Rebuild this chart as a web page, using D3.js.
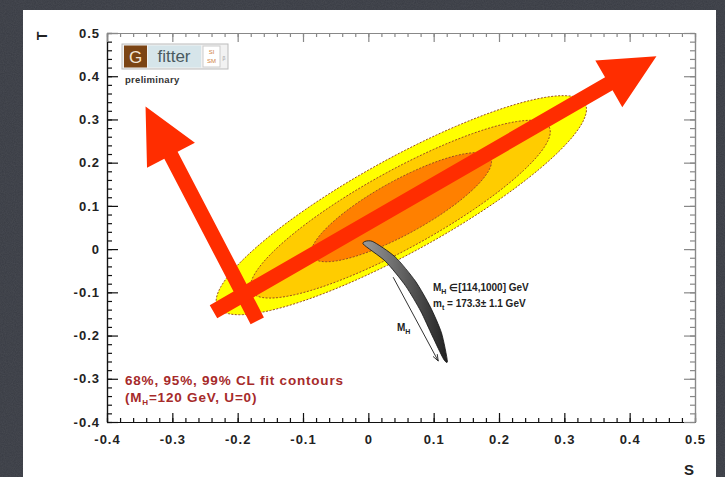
<!DOCTYPE html>
<html>
<head>
<meta charset="utf-8">
<script src="https://cdn.jsdelivr.net/npm/d3@7"></script>
<style>
  body { margin: 0; background: #3b3e46; }
  svg { display: block; }
  text { font-family: "Liberation Sans", Arial, sans-serif; }
</style>
</head>
<body>
<div id="chart"></div>
<script>
var width = 725,
    height = 477;

// axis ticks
var sTicks = [-0.4, -0.3, -0.2, -0.1, 0, 0.1, 0.2, 0.3, 0.4, 0.5];
var sTickLabels = ["-0.4", "-0.3", "-0.2", "-0.1", "0", "0.1", "0.2", "0.3", "0.4", "0.5"];
var tTicks = [-0.4, -0.3, -0.2, -0.1, 0, 0.1, 0.2, 0.3, 0.4, 0.5];
var tTickLabels = ["-0.4", "-0.3", "-0.2", "-0.1", "0", "0.1", "0.2", "0.3", "0.4", "0.5"];

// fit contours (99%, 95%, 68%) : centre + half axes in S,T units
var contourNames = ["99%", "95%", "68%"];
var contourColours = ["#ffff00", "#ffcc00", "#ff8000"];
var centreS = [0.0505, 0.049, 0.0505];
var centreT = [0.1016, 0.0924, 0.097];
var majorS = [0.2813, 0.2277, 0.1366];
var majorT = [0.2351, 0.1903, 0.1141];
var minorS = [0.0347, 0.0287, 0.0199];
var minorT = [-0.0946, -0.0780, -0.0540];

// SM prediction band (M_H from 114 to 1000 GeV)
var bandLeftS = [-0.008, 0.026, 0.057, 0.080, 0.098, 0.115];
var bandLeftT = [0.012, -0.028, -0.085, -0.143, -0.201, -0.254];
var bandRightS = [0.006, 0.041, 0.072, 0.095, 0.112, 0.121];
var bandRightT = [0.018, -0.018, -0.074, -0.134, -0.194, -0.259];

// M_H direction arrow
var mhArrowS = [0.038, 0.107];
var mhArrowT = [-0.065, -0.259];

// red overlay arrows: tail -> tip
var arrowTailS = [-0.170, -0.237];
var arrowTailT = [-0.166, -0.145];
var arrowTipS = [-0.341, 0.441];
var arrowTipT = [0.330, 0.446];

var x = d3.scaleLinear().domain([-0.4, 0.5]).range([107, 695]);
var y = d3.scaleLinear().domain([-0.4, 0.5]).range([422, 33]);

var svg = d3.select("#chart").append("svg")
    .attr("width", width)
    .attr("height", height);

// textured dark backdrop
var defs = svg.append("defs");
var noise = defs.append("filter").attr("id", "noise")
    .attr("x", 0).attr("y", 0).attr("width", "100%").attr("height", "100%");
noise.append("feTurbulence")
    .attr("type", "fractalNoise")
    .attr("baseFrequency", 0.9)
    .attr("numOctaves", 2)
    .attr("seed", 3);
noise.append("feColorMatrix")
    .attr("type", "matrix")
    .attr("values", "0 0 0 0 1  0 0 0 0 1  0 0 0 0 1  0 0 0 0.08 0");

svg.append("rect").attr("width", width).attr("height", height).style("fill", "#383b43");
svg.append("rect").attr("width", width).attr("height", height).attr("filter", "url(#noise)");

// white slide panel
svg.append("rect")
    .attr("x", 23).attr("y", 10)
    .attr("width", 693).attr("height", 470)
    .style("fill", "#ffffff");

// contours
var ellipse = d3.line()
    .x(function(p) { return x(p[0]); })
    .y(function(p) { return y(p[1]); })
    .curve(d3.curveLinearClosed);

contourNames.forEach(function(name, i) {
  var pts = d3.range(0, 2 * Math.PI, Math.PI / 90).map(function(a) {
    return [centreS[i] + majorS[i] * Math.cos(a) + minorS[i] * Math.sin(a),
            centreT[i] + majorT[i] * Math.cos(a) + minorT[i] * Math.sin(a)];
  });
  svg.append("path")
      .attr("class", "contour")
      .attr("d", ellipse(pts))
      .style("fill", contourColours[i])
      .style("stroke", "#9a4a22")
      .style("stroke-width", 1)
      .style("stroke-dasharray", "2,1.5");
});

// SM band
var bandPts = [];
bandLeftS.forEach(function(s, i) { bandPts.push([s, bandLeftT[i]]); });
for (var i = bandRightS.length - 1; i >= 0; i--) {
  bandPts.push([bandRightS[i], bandRightT[i]]);
}
var grad = defs.append("linearGradient").attr("id", "bandGrad")
    .attr("x1", 0).attr("y1", 0).attr("x2", 1).attr("y2", 0);
grad.append("stop").attr("offset", "0%").attr("stop-color", "#9a9a9a");
grad.append("stop").attr("offset", "100%").attr("stop-color", "#222");
svg.append("path")
    .attr("d", d3.line()
      .x(function(p) { return x(p[0]); })
      .y(function(p) { return y(p[1]); })
      .curve(d3.curveCardinalClosed.tension(0.3))(bandPts))
    .style("fill", "url(#bandGrad)")
    .style("stroke", "#111")
    .style("stroke-width", 0.8);

// M_H arrow
var mx1 = x(mhArrowS[0]), my1 = y(mhArrowT[0]),
    mx2 = x(mhArrowS[1]), my2 = y(mhArrowT[1]);
svg.append("line")
    .attr("x1", mx1).attr("y1", my1)
    .attr("x2", mx2).attr("y2", my2)
    .style("stroke", "#333")
    .style("stroke-width", 1);
var mang = Math.atan2(my2 - my1, mx2 - mx1);
svg.append("path")
    .attr("d", "M" + (mx2 - 7 * Math.cos(mang - 0.35)) + "," + (my2 - 7 * Math.sin(mang - 0.35)) +
               "L" + mx2 + "," + my2 +
               "L" + (mx2 - 7 * Math.cos(mang + 0.35)) + "," + (my2 - 7 * Math.sin(mang + 0.35)))
    .style("fill", "none")
    .style("stroke", "#333")
    .style("stroke-width", 1);

var mh = svg.append("text").attr("x", 397).attr("y", 331)
    .style("font-size", "10px").style("font-weight", "bold").style("fill", "#222");
mh.append("tspan").text("M");
mh.append("tspan").attr("dy", 3).style("font-size", "7px").text("H");

// SM band description
var l1 = svg.append("text").attr("x", 433).attr("y", 291)
    .style("font-size", "10px").style("font-weight", "bold").style("fill", "#222");
l1.append("tspan").text("M");
l1.append("tspan").attr("dy", 3).style("font-size", "7px").text("H");
l1.append("tspan").attr("dy", -3).text(" \u2208[114,1000] GeV");
var l2 = svg.append("text").attr("x", 433).attr("y", 307)
    .style("font-size", "10px").style("font-weight", "bold").style("fill", "#222");
l2.append("tspan").text("m");
l2.append("tspan").attr("dy", 3).style("font-size", "7px").text("t");
l2.append("tspan").attr("dy", -3).text(" = 173.3\u00b1 1.1 GeV");

// CL legend
svg.append("text").attr("x", 125).attr("y", 385)
    .style("font-size", "13.5px").style("font-weight", "bold").style("fill", "#a62a2a")
    .style("letter-spacing", "0.8px")
    .text("68%, 95%, 99% CL fit contours");
var l4 = svg.append("text").attr("x", 125).attr("y", 402)
    .style("font-size", "13.5px").style("font-weight", "bold").style("fill", "#a62a2a")
    .style("letter-spacing", "0.8px");
l4.append("tspan").text("(M");
l4.append("tspan").attr("dy", 3).style("font-size", "8px").text("H");
l4.append("tspan").attr("dy", -3).text("=120 GeV, U=0)");

// axes, ROOT style ticks pointing inwards
function styleAxis(g, colour) {
  g.selectAll("path, line").style("stroke", colour).style("stroke-width", 1.2);
  g.selectAll("text")
      .style("font-family", "'Liberation Sans', Arial, sans-serif")
      .style("font-size", "13px")
      .style("font-weight", "bold")
      .style("letter-spacing", "1px")
      .style("fill", "#222");
}

var sMinor = x.ticks(45), tMinor = y.ticks(45);

svg.append("g").attr("transform", "translate(0," + y(-0.4) + ")")
    .call(d3.axisBottom(x).tickValues(sMinor).tickSize(-4).tickSizeOuter(0).tickFormat(""))
    .call(styleAxis, "#111");
svg.append("g").attr("transform", "translate(0," + y(-0.4) + ")")
    .call(d3.axisBottom(x).tickValues(sTicks).tickSize(-9).tickSizeOuter(0).tickPadding(13)
      .tickFormat(function(d, i) { return sTickLabels[i]; }))
    .call(styleAxis, "#111");

svg.append("g").attr("transform", "translate(" + x(-0.4) + ",0)")
    .call(d3.axisLeft(y).tickValues(tMinor).tickSize(-5).tickSizeOuter(0).tickFormat(""))
    .call(styleAxis, "#111");
svg.append("g").attr("transform", "translate(" + x(-0.4) + ",0)")
    .call(d3.axisLeft(y).tickValues(tTicks).tickSize(-11).tickSizeOuter(0).tickPadding(7)
      .tickFormat(function(d, i) { return tTickLabels[i]; }))
    .call(styleAxis, "#111");

svg.append("g").attr("transform", "translate(0," + y(0.5) + ")")
    .call(d3.axisTop(x).tickValues(sMinor).tickSize(-4).tickSizeOuter(0).tickFormat(""))
    .call(styleAxis, "#888");
svg.append("g").attr("transform", "translate(0," + y(0.5) + ")")
    .call(d3.axisTop(x).tickValues(sTicks).tickSize(-9).tickSizeOuter(0).tickFormat(""))
    .call(styleAxis, "#888");
svg.append("g").attr("transform", "translate(" + x(0.5) + ",0)")
    .call(d3.axisRight(y).tickValues(tMinor).tickSize(-5).tickSizeOuter(0).tickFormat(""))
    .call(styleAxis, "#888");
svg.append("g").attr("transform", "translate(" + x(0.5) + ",0)")
    .call(d3.axisRight(y).tickValues(tTicks).tickSize(-11).tickSizeOuter(0).tickFormat(""))
    .call(styleAxis, "#888");

// axis titles
svg.append("text").attr("x", 689).attr("y", 475)
    .attr("text-anchor", "middle")
    .style("font-size", "15px").style("font-weight", "bold").style("fill", "#222")
    .text("S");
svg.append("text")
    .attr("transform", "translate(47,36) rotate(-90)")
    .attr("text-anchor", "middle")
    .style("font-size", "14px").style("font-weight", "bold").style("fill", "#222")
    .text("T");

// Gfitter logo
var logo = svg.append("g").attr("transform", "translate(122,44)");
logo.append("rect").attr("width", 106).attr("height", 25)
    .style("fill", "#f2f2f2").style("stroke", "#bbb");
logo.append("rect").attr("x", 2).attr("y", 1.5).attr("width", 23).attr("height", 22)
    .style("fill", "#7b4414");
logo.append("text").attr("x", 13.5).attr("y", 19).attr("text-anchor", "middle")
    .style("font-size", "17px").style("fill", "#f3e6d8").text("G");
logo.append("rect").attr("x", 26).attr("y", 1.5).attr("width", 53).attr("height", 22)
    .style("fill", "#d6e5ea");
logo.append("text").attr("x", 52).attr("y", 18).attr("text-anchor", "middle")
    .style("font-size", "17px").style("fill", "#4a5a60").text("fitter");
logo.append("rect").attr("x", 81).attr("y", 2).attr("width", 17).attr("height", 21)
    .style("fill", "#fff").style("stroke", "#ccc");
logo.append("text").attr("x", 89.5).attr("y", 10).attr("text-anchor", "middle")
    .style("font-size", "6px").style("fill", "#d08040").text("SI");
logo.append("text").attr("x", 89.5).attr("y", 19).attr("text-anchor", "middle")
    .style("font-size", "6px").style("fill", "#d08040").text("SM");
logo.append("text").attr("x", 102).attr("y", 16).attr("text-anchor", "middle")
    .style("font-size", "5px").style("fill", "#999").text("β");
svg.append("text").attr("x", 125).attr("y", 83)
    .style("font-size", "9.5px").style("font-weight", "bold").style("fill", "#333")
    .style("letter-spacing", "0.3px")
    .text("preliminary");

// red overlay arrows
function arrowPath(x1, y1, x2, y2) {
  var dx = x2 - x1, dy = y2 - y1,
      len = Math.sqrt(dx * dx + dy * dy),
      ux = dx / len, uy = dy / len,
      nx = -uy, ny = ux,
      shaft = 7.5, head = 27, headLen = 55;
  var bx = x2 - ux * headLen, by = y2 - uy * headLen;
  var p = [
    [x1 + nx * shaft, y1 + ny * shaft],
    [bx + nx * shaft, by + ny * shaft],
    [bx + nx * head, by + ny * head],
    [x2, y2],
    [bx - nx * head, by - ny * head],
    [bx - nx * shaft, by - ny * shaft],
    [x1 - nx * shaft, y1 - ny * shaft]
  ];
  return "M" + p.join("L") + "Z";
}

arrowTailS.forEach(function(s, i) {
  svg.append("path")
      .attr("class", "redArrow")
      .attr("d", arrowPath(x(s), y(arrowTailT[i]), x(arrowTipS[i]), y(arrowTipT[i])))
      .style("fill", "#ff2d00");
});
</script>
</body>
</html>
